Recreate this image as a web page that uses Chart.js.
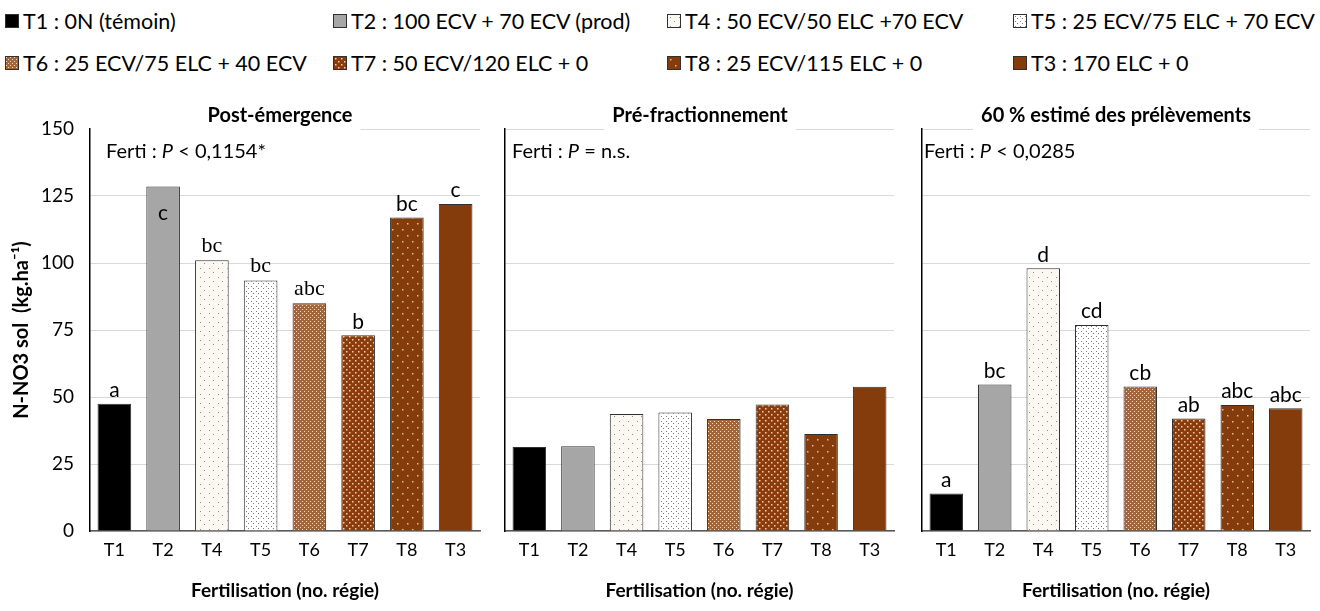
<!DOCTYPE html>
<html>
<head>
<meta charset="utf-8">
<script src="https://cdn.jsdelivr.net/npm/chart.js@4.4.0/dist/chart.umd.min.js"></script>
<style>
  body { margin: 0; background: #fff; width: 1320px; height: 611px; overflow: hidden; position: relative; font-family: Lato, sans-serif; }
  .panel { position: absolute; top: 95px; }
  .leg { position: absolute; font-size: 21.5px; color: #000; white-space: nowrap; display: flex; align-items: center; height: 26px; }
  .leg canvas { margin-right: 4px; border: 1px solid #303030; }
</style>
</head>
<body>
<div id="legend"></div>
<canvas class="panel" id="c1" width="500" height="516" style="left:0"></canvas>
<canvas class="panel" id="c2" width="410" height="516" style="left:500px"></canvas>
<canvas class="panel" id="c3" width="410" height="516" style="left:910px"></canvas>

<script>
"use strict";

// data
var categories = ['T1', 'T2', 'T4', 'T5', 'T6', 'T7', 'T8', 'T3'];
var legendLabels = [
    'T1 : 0N (témoin)', 'T2 : 100 ECV + 70 ECV (prod)', 'T4 : 50 ECV/50 ELC +70 ECV', 'T5 : 25 ECV/75 ELC + 70 ECV',
    'T6 : 25 ECV/75 ELC + 40 ECV', 'T7 : 50 ECV/120 ELC + 0', 'T8 : 25 ECV/115 ELC + 0', 'T3 : 170 ELC + 0'
];
var postEmergence = [47.5, 128.5, 101, 93.5, 85, 73, 117, 122];
var preFractionnement = [31.3, 31.6, 43.7, 44.2, 41.8, 47.2, 36.2, 53.8];
var prelevements60 = [14, 54.7, 98, 76.9, 53.9, 42, 47, 45.8];
var lettersPost = ['a', 'c', 'bc', 'bc', 'abc', 'b', 'bc', 'c'];
var lettersPre = [];
var letters60 = ['a', 'bc', 'd', 'cd', 'cb', 'ab', 'abc', 'abc'];
var yTicks = [0, 25, 50, 75, 100, 125, 150];
var panelTitles = ['Post-émergence', 'Pré-fractionnement', '60 % estimé des prélèvements'];
var statTexts = [['Ferti : ', 'P', ' < 0,1154*'], ['Ferti : ', 'P', ' = n.s.'], ['Ferti : ', 'P', ' < 0,0285']];
var xTitle = 'Fertilisation (no. régie)';
var yTitle = 'N-NO3 sol  (kg.ha\u207B\u00B9)';

var SANS = 'Lato, "Open Sans", sans-serif';
var SERIF = '"Liberation Serif", "DejaVu Serif", serif';

/* fill patterns for each treatment */
function tile(w, h, bg, dots, dotColor, size) {
    var c = document.createElement('canvas');
    c.width = w; c.height = h;
    var g = c.getContext('2d');
    g.fillStyle = bg;
    g.fillRect(0, 0, w, h);
    g.fillStyle = dotColor;
    dots.forEach(function (d) { g.fillRect(d[0], d[1], size, size); });
    return c;
}

function makeFill(cat, ctx) {
    var t;
    switch (cat) {
        case 'T1': return '#000000';
        case 'T2': return '#A6A6A6';
        case 'T3': return '#843C0C';
        case 'T4': t = tile(9, 9, '#FBF8F2', [[2, 2], [6, 6]], '#8C8C8C', 1); break;
        case 'T5': t = tile(5, 5, '#FFFFFF', [[1, 1], [3, 3]], '#7E7E7E', 1); break;
        case 'T6': t = tile(4, 4, '#A0653A', [[0, 0], [2, 2]], '#F2DEC4', 1); break;
        case 'T7': t = tile(6, 6, '#8A3C0E', [[1, 1], [4, 4]], '#F3D2A2', 1.5); break;
        case 'T8': t = tile(10, 12, '#843C0C', [[2, 2], [7, 8]], '#E9BC8C', 1.5); break;
    }
    return ctx.createPattern(t, 'repeat');
}

/* legend */
var legendCols = [5, 333, 667, 1013];
var legendRows = [8, 50];
var legendBox = document.getElementById('legend');
categories.forEach(function (cat, i) {
    var div = document.createElement('div');
    div.className = 'leg';
    div.style.left = legendCols[i % 4] + 'px';
    div.style.top = legendRows[Math.floor(i / 4)] + 'px';
    var sw = document.createElement('canvas');
    sw.width = 12; sw.height = 12;
    var g = sw.getContext('2d');
    g.fillStyle = makeFill(cat, g);
    g.fillRect(0, 0, 12, 12);
    div.appendChild(sw);
    var span = document.createElement('span');
    span.textContent = legendLabels[i];
    div.appendChild(span);
    legendBox.appendChild(div);
});

/* one panel */
function makePanel(id, values, letters, idx, opt) {
    var canvas = document.getElementById(id);
    var ctx = canvas.getContext('2d');
    var fills = categories.map(function (c) { return makeFill(c, ctx); });

    var decor = {
        id: 'decor' + idx,
        afterDatasetsDraw: function (chart) {
            var c = chart.ctx;
            var meta = chart.getDatasetMeta(0);
            c.save();
            c.fillStyle = '#000';
            c.textAlign = 'center';
            letters.forEach(function (txt, i) {
                var el = meta.data[i];
                var serif = opt.serif && opt.serif.indexOf(i) >= 0;
                c.font = serif ? '22px ' + SERIF : '21px ' + SANS;
                if (opt.inside === i) {
                    c.textBaseline = 'middle';
                    c.fillText(txt, el.x, el.y + 27);
                } else {
                    c.textBaseline = 'bottom';
                    c.fillText(txt, el.x, el.y - 3);
                }
            });
            c.restore();
        },
        afterDraw: function (chart) {
            var c = chart.ctx;
            c.save();
            // title with white box over the top gridline
            c.font = 'bold 20px ' + SANS;
            var w = c.measureText(panelTitles[idx]).width;
            var cx = opt.titleX;
            var left = opt.boxLeft !== undefined ? opt.boxLeft : cx - w / 2 - 8;
            c.fillStyle = '#fff';
            c.fillRect(left, 6, cx + w / 2 + 8 - left, 30);
            c.fillStyle = '#000';
            c.textAlign = 'center';
            c.textBaseline = 'middle';
            c.fillText(panelTitles[idx], cx, 21);
            // stats text, P in italic
            var parts = statTexts[idx];
            var x = opt.statX;
            c.textAlign = 'left';
            parts.forEach(function (p, k) {
                c.font = (k === 1 ? 'italic ' : '') + '20px ' + SANS;
                c.fillText(p, x, 57);
                x += c.measureText(p).width;
            });
            c.restore();
        }
    };

    return new Chart(ctx, {
        type: 'bar',
        data: {
            labels: categories,
            datasets: [{
                data: values,
                backgroundColor: fills,
                borderColor: '#303030',
                borderWidth: 1,
                barPercentage: 0.69,
                categoryPercentage: 1
            }]
        },
        options: {
            responsive: false,
            animation: false,
            devicePixelRatio: 1,
            layout: { padding: { top: 34, right: opt.padRight, left: 0, bottom: 0 } },
            plugins: { legend: { display: false }, tooltip: { enabled: false } },
            scales: {
                x: {
                    grid: { display: false, drawTicks: false },
                    border: { display: true, color: '#595959', width: 1.5 },
                    ticks: { color: '#000', font: { family: SANS, size: 18 }, padding: 8 },
                    title: { display: true, text: xTitle, color: '#000', font: { family: SANS, size: 19, weight: 'bold' }, padding: { top: 4, bottom: 9 } },
                    afterFit: function (s) { s.height = 80; }
                },
                y: {
                    min: 0,
                    max: 150,
                    afterBuildTicks: function (s) { s.ticks = yTicks.map(function (v) { return { value: v }; }); },
                    grid: { color: '#D9D9D9', lineWidth: 1, drawTicks: false },
                    border: { display: true, color: '#000', width: 1.5 },
                    ticks: { display: opt.showTicks, color: '#000', font: { family: SANS, size: 19 }, padding: 16 },
                    title: { display: opt.showTicks, text: yTitle, color: '#000', font: { family: SANS, size: 20, weight: 'bold' }, padding: { top: 10 } },
                    afterFit: function (s) { s.width = opt.yWidth; }
                }
            }
        },
        plugins: [decor]
    });
}

makePanel('c1', postEmergence, lettersPost, 0, { showTicks: true, yWidth: 90, padRight: 20, titleX: 280, boxLeft: 91, statX: 106, serif: [2, 3, 4], inside: 1 });
makePanel('c2', preFractionnement, lettersPre, 1, { showTicks: false, yWidth: 5, padRight: 16, titleX: 200, statX: 12 });
makePanel('c3', prelevements60, letters60, 2, { showTicks: false, yWidth: 12, padRight: 10, titleX: 206, statX: 14 });
</script>
</body>
</html>
